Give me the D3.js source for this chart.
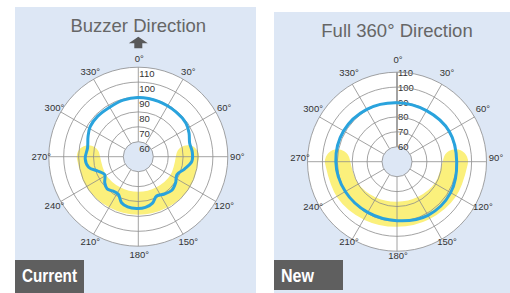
<!DOCTYPE html>
<html>
<head>
<meta charset="utf-8">
<script src="https://cdn.jsdelivr.net/npm/d3@7"></script>
<style>
  body { margin: 0; background: #fff; }
  text { font-family: "Liberation Sans", Arial, sans-serif; }
</style>
</head>
<body>
<svg id="chart" width="510" height="293"></svg>
<script>
// angle ticks (degrees, clockwise from top) and level ticks
const angleTicks = [0, 30, 60, 90, 120, 150, 180, 210, 240, 270, 300, 330];
const levelTicks = [60, 70, 80, 90, 100, 110];

// current buzzer: measured level by direction
const currentAngles = [0, 20, 40, 55, 65, 75, 85, 95, 105, 115, 125, 135, 145, 155, 163, 172, 182, 192, 200, 208, 216, 224, 232, 242, 250, 258, 268, 280, 292, 302, 315, 330, 345];
const currentLevels = [89.6, 89.4, 89.2, 89, 87.5, 85.6, 86.3, 86, 82, 78.5, 80.5, 81.8, 80.5, 79, 82.5, 84.3, 84.7, 84.3, 82.8, 78.5, 78.5, 80, 78.5, 75.5, 78.5, 84, 85.6, 84.5, 86.3, 88, 88.4, 88.3, 89.2];

// current buzzer: highlighted band (yellow)
const currentBandAngles = [90, 120, 150, 180, 210, 240, 270];
const currentBandLevels = [83, 82.5, 81.5, 81.2, 81.5, 82.5, 83.5];

// new buzzer: measured level by direction
const newAngles = [0, 30, 60, 90, 120, 150, 180, 210, 240, 270, 300, 330];
const newLevels = [89.5, 89.5, 90.5, 90, 91.5, 91.5, 89.5, 89.2, 90, 91, 91.3, 90.5];

// new buzzer: highlighted band (yellow)
const newBandAngles = [90, 120, 150, 180, 210, 240, 270];
const newBandLevels = [89.2, 87.5, 85.8, 85.2, 86.3, 88.3, 89.9];

const svg = d3.select("#chart");
const panelColor = "#dde7f5";
const gridColor = "#8c8c8c";

const r = d3.scaleLinear().domain([60, 110]).range([15, 89.5]);
const a = d3.scaleLinear().domain([0, 360]).range([0, 2 * Math.PI]);

function drawPanel(opt) {
  svg.append("rect")
     .attr("x", opt.px).attr("y", opt.py)
     .attr("width", opt.pw).attr("height", opt.ph)
     .attr("fill", panelColor);

  svg.append("text")
     .attr("x", opt.cx).attr("y", opt.titleY)
     .attr("text-anchor", "middle")
     .attr("font-size", 18.5)
     .attr("fill", "#666")
     .text(opt.title);

  let g = svg.append("g").attr("transform", `translate(${opt.cx},${opt.cy})`);

  // plot face
  g.append("circle").attr("r", r(110)).attr("fill", "#fff");

  // yellow band
  let band = d3.lineRadial()
               .angle(function(d) { return a(d[0]); })
               .radius(function(d) { return r(d[1]); })
               .curve(d3.curveCatmullRom);
  g.append("path")
   .datum(d3.zip(opt.bandAngles, opt.bandLevels))
   .attr("d", band)
   .attr("fill", "none")
   .attr("stroke", "#fbf07c")
   .attr("stroke-width", opt.bandWidth)
   .attr("stroke-linecap", "round");

  // level labels (60 goes in after the hole)
  g.selectAll(".lvl")
   .data(levelTicks.slice(1))
   .enter().append("text")
   .attr("x", 1)
   .attr("y", function(d) { return -r(d) + opt.lvlOffset; })
   .attr("font-size", 9.5)
   .attr("fill", "#333")
   .text(function(d) { return d; });

  // rings
  g.selectAll(".ring")
   .data(levelTicks.slice(1))
   .enter().append("circle")
   .attr("r", function(d) { return r(d); })
   .attr("fill", "none")
   .attr("stroke", gridColor)
   .attr("stroke-width", 0.8);

  // spokes
  g.selectAll(".spoke")
   .data(angleTicks)
   .enter().append("line")
   .attr("x1", function(d) { return r(60) * Math.sin(a(d)); })
   .attr("y1", function(d) { return -r(60) * Math.cos(a(d)); })
   .attr("x2", function(d) { return r(110) * Math.sin(a(d)); })
   .attr("y2", function(d) { return -r(110) * Math.cos(a(d)); })
   .attr("stroke", gridColor)
   .attr("stroke-width", function(d) { return d === 0 ? opt.axisWidth : 0.8; });

  // centre hole
  g.append("circle").attr("r", r(60))
   .attr("fill", panelColor).attr("stroke", gridColor).attr("stroke-width", 0.8);
  g.append("text")
   .attr("x", 1).attr("y", -r(60) + opt.lvlOffset)
   .attr("font-size", 9.5).attr("fill", "#333").text(levelTicks[0]);

  // measured level
  let line = d3.lineRadial()
               .angle(function(d) { return a(d[0]); })
               .radius(function(d) { return r(d[1]); })
               .curve(d3.curveCatmullRomClosed);
  g.append("path")
   .datum(d3.zip(opt.angles, opt.levels))
   .attr("d", line)
   .attr("fill", "none")
   .attr("stroke", "#29a3dd")
   .attr("stroke-width", 3)
   .attr("stroke-linejoin", "round");

  // angle labels
  g.selectAll(".ang")
   .data(angleTicks)
   .enter().append("text")
   .attr("x", function(d) { return 98 * Math.sin(a(d)) + 1; })
   .attr("y", function(d) { return -98 * Math.cos(a(d)) + opt.labelShift; })
   .attr("dy", "0.35em")
   .attr("text-anchor", "middle")
   .attr("font-size", 9.5)
   .attr("fill", "#333")
   .text(function(d) { return d + "°"; });

  // name tag
  svg.append("rect")
     .attr("x", opt.px).attr("y", 260)
     .attr("width", 69).attr("height", opt.tagH)
     .attr("fill", "#5f5f5f");
  svg.append("text")
     .attr("x", opt.px + 7).attr("y", 281.7)
     .attr("font-size", 18.5)
     .attr("font-weight", "bold")
     .attr("fill", "#fff")
     .attr("textLength", opt.tagW)
     .attr("lengthAdjust", "spacingAndGlyphs")
     .text(opt.tag);

  return g;
}

let left = drawPanel({
  px: 15, py: 7, pw: 241, ph: 286,
  cx: 138.3, cy: 156.7, titleY: 32.3, title: "Buzzer Direction",
  angles: currentAngles, levels: currentLevels,
  bandAngles: currentBandAngles, bandLevels: currentBandLevels, bandWidth: 23,
  lvlOffset: 10, axisWidth: 0.8, labelShift: 0,
  tag: "Current", tagW: 55, tagH: 33
});

// direction arrow above the left chart
left.append("path")
    .attr("d", "M0,-120 L9.5,-113.5 L4,-113.5 L4,-108.4 L-4,-108.4 L-4,-113.5 L-9.5,-113.5 Z")
    .attr("fill", "#595959");

drawPanel({
  px: 274, py: 12, pw: 236, ph: 281,
  cx: 397, cy: 161.7, titleY: 37.3, title: "Full 360° Direction",
  angles: newAngles, levels: newLevels,
  bandAngles: newBandAngles, bandLevels: newBandLevels, bandWidth: 25,
  lvlOffset: 3.5, axisWidth: 1.6, labelShift: -4.5,
  tag: "New", tagW: 33, tagH: 30
});
</script>
</body>
</html>
